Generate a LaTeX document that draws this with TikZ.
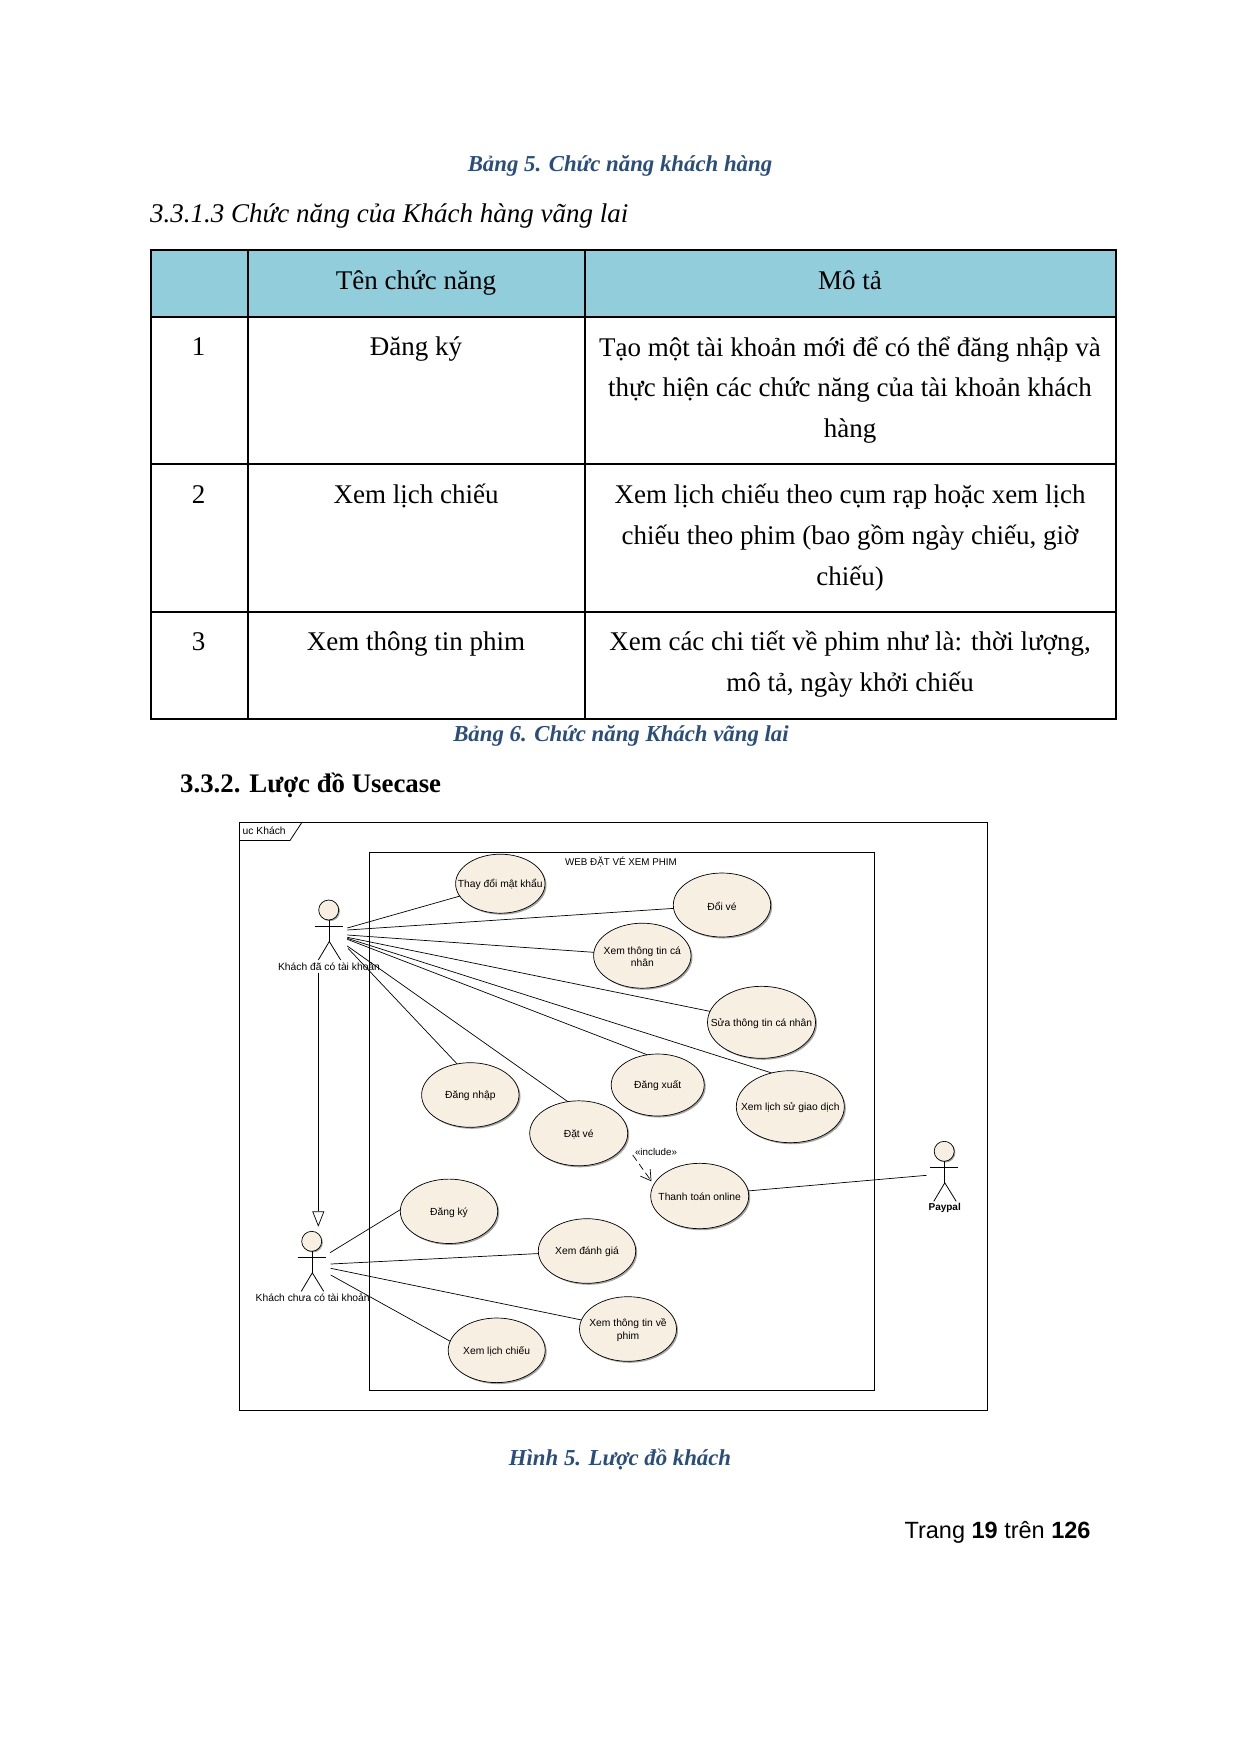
\documentclass[tikz,border=0pt]{standalone}
\usepackage{fontspec}
\setmainfont{Liberation Serif}
\setsansfont{Liberation Sans}
\usetikzlibrary{shapes.geometric,shadows,arrows.meta}
\definecolor{navy}{HTML}{2A4D7C}
\definecolor{cellblue}{HTML}{92CDDC}
\definecolor{usefill}{HTML}{F7EFE2}
\tikzset{
  caption/.style={anchor=base,font=\fontsize{22.8}{27}\selectfont\bfseries\itshape,text=navy,inner sep=0pt},
  cell/.style={anchor=base,font=\fontsize{27}{40.6}\selectfont,align=center,inner sep=0pt},
  usecase/.style={ellipse,draw=black,line width=0.7pt,fill=usefill,inner sep=0pt,outer sep=0pt,
    drop shadow={shadow xshift=1.5pt,shadow yshift=-1.5pt,fill=black!60,opacity=0.6}},
  uctext/.style={align=center,inner sep=0pt,yshift=-1pt,font=\sffamily\fontsize{10.3}{12.3}\selectfont},
  assoc/.style={draw=black,line width=0.7pt},
  limb/.style={draw=black,line width=0.8pt},
  head/.style={circle,draw=black,line width=0.7pt,fill=usefill,inner sep=0pt,outer sep=0pt,minimum size=20pt,
    drop shadow={shadow xshift=1.2pt,shadow yshift=-1.2pt,fill=black!60,opacity=0.6}},
  actorlabel/.style={font=\sffamily\fontsize{10.3}{12}\selectfont,inner sep=0pt},
  tbl/.style={draw=black,line width=2pt},
  frameline/.style={draw=black,line width=0.8pt}
}
\newcommand{\uc}[6]{\node[usecase,minimum width=#3pt,minimum height=#4pt,label={[uctext]center:{#6}}] (#5) at (#1,#2) {};}
\newcommand{\stick}[2]{%
  \draw[limb] (#1-14.2,#2+16) -- (#1+14.2,#2+16);
  \draw[limb] (#1+0.6,#2+10) -- (#1+0.6,#2+31.5);
  \draw[limb] (#1-10.4,#2+50) -- (#1+0.6,#2+31.5) -- (#1+12,#2+50);
}
\begin{document}
\begin{tikzpicture}[x=1pt,y=-1pt]
\useasboundingbox[fill=white] (0,0) rectangle (1241,1753);

% page text above table
\node[caption] (cap5) at (620,171.7) {Bảng 5. Chức năng khách hàng};
\node[anchor=base west,inner sep=0pt,font=\fontsize{27}{32}\selectfont\itshape] (h3) at (150,222.7) {3.3.1.3 Chức năng của Khách hàng vãng lai};

% table
\fill[cellblue] (150.7,250) rectangle (1116,316.7);
\draw[tbl] (150.7,250) rectangle (1116,719);
\draw[tbl] (150.7,316.7) -- (1116,316.7);
\draw[tbl] (150.7,463.5) -- (1116,463.5);
\draw[tbl] (150.7,611.5) -- (1116,611.5);
\draw[tbl] (248.3,250) -- (248.3,719);
\draw[tbl] (585,250) -- (585,719);

\node[cell] (th2) at (416,289) {Tên chức năng};
\node[cell] (th3) at (850,289) {Mô tả};
\node[cell] (n1) at (198.5,355) {1};
\node[cell] (f1) at (416,355) {Đăng ký};
\node[cell] (d1) at (850,437.5) {Tạo một tài khoản mới để có thể đăng nhập và\\thực hiện các chức năng của tài khoản khách\\hàng};
\node[cell] (n2) at (198.5,503.5) {2};
\node[cell] (f2) at (416,503.5) {Xem lịch chiếu};
\node[cell] (d2) at (850,585) {Xem lịch chiếu theo cụm rạp hoặc xem lịch\\chiếu theo phim (bao gồm ngày chiếu, giờ\\chiếu)};
\node[cell] (n3) at (198.5,650) {3};
\node[cell] (f3) at (416,650) {Xem thông tin phim};
\node[cell] (d3) at (850,691.5) {Xem các chi tiết về phim như là: thời lượng,\\mô tả, ngày khởi chiếu};

\node[caption] (cap6) at (621,741.7) {Bảng 6. Chức năng Khách vãng lai};
\node[anchor=base west,inner sep=0pt,font=\fontsize{26.8}{32}\selectfont\bfseries] (h4) at (180,792.7) {3.3.2. Lược đồ Usecase};

% diagram frames
\draw[frameline] (239.5,822.7) rectangle (987.3,1410.3);
\draw[frameline] (239.5,840.5) -- (290,840.5) -- (301.7,822.7);
\node[anchor=west,inner sep=0pt,font=\sffamily\fontsize{10.3}{12}\selectfont] (frametitle) at (242.5,831) {uc Khách};
\draw[frameline] (369.3,852.3) rectangle (874.3,1390);
\node[inner sep=0pt,font=\sffamily\fontsize{9.8}{12}\selectfont] (systitle) at (621,861.5) {WEB ĐẶT VÉ XEM PHIM};

% use cases
\uc{500.3}{883.7}{89.4}{59}{ucdoimk}{Thay đổi mật khẩu}
\uc{722}{905}{97.4}{64}{ucdoive}{Đổi vé}
\uc{642.3}{955.7}{97.4}{65}{ucxemcn}{Xem thông tin cá\\nhân}
\uc{761.5}{1022.3}{108}{72}{ucsuacn}{Sửa thông tin cá nhân}
\uc{657.7}{1085}{93}{62}{ucdangxuat}{Đăng xuất}
\uc{790.3}{1106.7}{108}{72}{uclichsu}{Xem lịch sử giao dịch}
\uc{578.7}{1133.3}{98}{65}{ucdatve}{Đặt vé}
\uc{470.3}{1095}{97.4}{64.6}{ucdangnhap}{Đăng nhập}
\uc{699.7}{1196}{98}{65.4}{ucthanhtoan}{Thanh toán online}
\uc{449}{1211.3}{97.4}{64.4}{ucdangky}{Đăng ký}
\uc{587}{1251}{97.4}{64.6}{ucdanhgia}{Xem đánh giá}
\uc{628}{1329}{97}{64.6}{ucphim}{Xem thông tin về\\phim}
\uc{496.7}{1350.3}{97}{64.6}{uclichchieu}{Xem lịch chiếu}

% actors
\node[head] (a1head) at (328.7,910) {};
\stick{328.7}{910}
\node[actorlabel] (a1) at (329,966.7) {Khách đã có tài khoản};
\node[head] (a2head) at (311.7,1241.3) {};
\stick{311.7}{1241.3}
\node[actorlabel] (a2) at (312.7,1297.7) {Khách chưa có tài khoản};
\node[head] (a3head) at (944.2,1151.3) {};
\stick{944.2}{1151.3}
\node[actorlabel,font=\sffamily\bfseries\fontsize{10}{12}\selectfont] (a3) at (944.7,1207.7) {Paypal};

% association start points beside the actors
\coordinate (s1) at (347.3,928);
\coordinate (s2) at (347.3,930);
\coordinate (s3) at (347.3,935);
\coordinate (s4) at (347.3,937.3);
\coordinate (s5) at (347.3,938.3);
\coordinate (s6) at (347.3,939.3);
\coordinate (s7) at (347.3,946);
\coordinate (s8) at (348,948.3);
\coordinate (t1) at (330,1252.7);
\coordinate (t2) at (330.7,1264);
\coordinate (t3) at (330.7,1268.3);
\coordinate (t4) at (330.7,1275);
\coordinate (p1) at (926.7,1175.3);
\coordinate (g1) at (318.3,972.7);
\coordinate (g2) at (318.3,1226.7);
\coordinate (inc) at (632.7,1155);

% associations
\draw[assoc] (s1) -- (ucdoimk.197);
\draw[assoc] (s2) -- (ucdoive.184);
\draw[assoc] (s3) -- (ucxemcn.176.5);
\draw[assoc] (s4) -- (ucsuacn.168);
\draw[assoc] (s5) -- (uclichsu.119);
\draw[assoc] (s6) -- (ucdangxuat.109);
\draw[assoc] (s7) -- (ucdatve.109.4);
\draw[assoc] (s8) -- (ucdangnhap.113);
\draw[assoc] (t1) -- (ucdangky.178.5);
\draw[assoc] (t2) -- (ucdanhgia.183);
\draw[assoc] (t3) -- (ucphim.169.5);
\draw[assoc] (t4) -- (uclichchieu.169);
\draw[assoc] (ucthanhtoan.6) -- (p1);

% generalisation and include
\draw[assoc,-{Triangle[open,length=15.4pt,width=12pt]}] (g1) -- (g2);
\draw[assoc,dash pattern=on 7pt off 4pt,shorten >=4pt,-{Straight Barb[length=10pt,width=12pt]}] (inc) -- (ucthanhtoan.166.5);
\node[inner sep=0pt,font=\sffamily\fontsize{9.8}{11}\selectfont] (inclabel) at (656,1151.7) {«include»};

% lower page text
\node[caption] (cap7) at (620,1465.5) {Hình 5. Lược đồ khách};
\node[anchor=base east,inner sep=0pt,font=\sffamily\fontsize{23.5}{28}\selectfont] (footer) at (1090.7,1538.3) {Trang \textbf{19} trên \textbf{126}};
\end{tikzpicture}
\end{document}
